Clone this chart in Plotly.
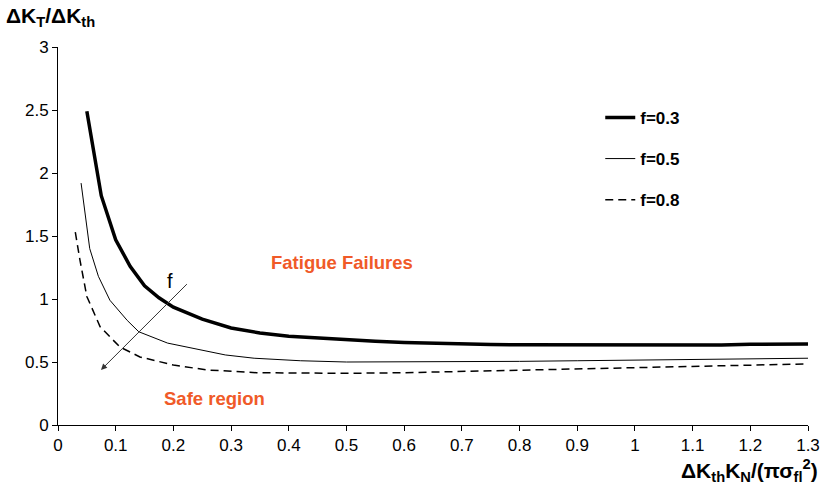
import plotly.graph_objects as go

# f = 0.3 (thick solid)
x_f03 = [0.05, 0.075, 0.1, 0.125, 0.15, 0.175, 0.2, 0.25, 0.3, 0.35, 0.4, 0.45, 0.5, 0.55, 0.6,
         0.65, 0.7, 0.75, 0.8, 0.85, 0.9, 0.95, 1.0, 1.05, 1.1, 1.15, 1.2, 1.25, 1.3]
y_f03 = [2.49, 1.82, 1.47, 1.26, 1.105, 1.01, 0.935, 0.84, 0.77, 0.73, 0.705, 0.69, 0.675, 0.665, 0.655,
         0.648, 0.642, 0.638, 0.636, 0.635, 0.635, 0.634, 0.634, 0.634, 0.634, 0.635, 0.641, 0.642, 0.643]

# f = 0.5 (thin solid)
x_f05 = [0.04, 0.055, 0.07, 0.09, 0.12, 0.14, 0.19, 0.23, 0.29, 0.34, 0.42, 0.5, 0.6, 0.7,
         0.8, 0.9, 1.0, 1.1, 1.2, 1.3]
y_f05 = [1.92, 1.40, 1.18, 0.99, 0.83, 0.74, 0.65, 0.61, 0.556, 0.53, 0.51, 0.50, 0.50, 0.50,
         0.505, 0.51, 0.515, 0.52, 0.525, 0.53]

# f = 0.8 (dashed)
x_f08 = [0.03, 0.038, 0.05, 0.073, 0.107, 0.142, 0.2, 0.258, 0.344, 0.42, 0.5, 0.6, 0.7,
         0.8, 0.9, 1.0, 1.1, 1.2, 1.3]
y_f08 = [1.53, 1.31, 1.02, 0.78, 0.62, 0.54, 0.476, 0.437, 0.415, 0.41, 0.41, 0.415, 0.425,
         0.435, 0.445, 0.455, 0.465, 0.475, 0.485]

x_ticks = [0, 0.1, 0.2, 0.3, 0.4, 0.5, 0.6, 0.7, 0.8, 0.9, 1, 1.1, 1.2, 1.3]
x_ticklabels = ["0", "0.1", "0.2", "0.3", "0.4", "0.5", "0.6", "0.7", "0.8", "0.9", "1", "1.1", "1.2", "1.3"]
y_ticks = [0, 0.5, 1, 1.5, 2, 2.5, 3]
y_ticklabels = ["0", "0.5", "1", "1.5", "2", "2.5", "3"]

FONT = "Arial, Liberation Sans, sans-serif"
ORANGE = "#F05A28"

fig = go.Figure()
fig.add_trace(go.Scatter(x=x_f03, y=y_f03, mode="lines", name="f=0.3", legendgroup="a",
                         line=dict(color="black", width=3.5)))
fig.add_trace(go.Scatter(x=x_f05, y=y_f05, mode="lines", name="f=0.5", legendgroup="b",
                         line=dict(color="black", width=1)))
fig.add_trace(go.Scatter(x=x_f08, y=y_f08, mode="lines", name="f=0.8", legendgroup="c",
                         line=dict(color="black", width=1.5, dash="8px,5px")))

fig.update_layout(
    width=822, height=494,
    margin=dict(l=58, r=14, t=47, b=69),
    paper_bgcolor="white", plot_bgcolor="white",
    font=dict(family=FONT, size=17, color="black"),
    showlegend=True,
    legend=dict(x=0.723, y=0.86, xanchor="left", yanchor="top",
                font=dict(family=FONT, size=17, color="black", weight="bold"),
                tracegroupgap=16, bgcolor="rgba(0,0,0,0)", itemwidth=30),
    xaxis=dict(range=[0, 1.3], tickvals=x_ticks, ticktext=x_ticklabels, automargin=False,
               showgrid=False, zeroline=False, showline=True, linecolor="black", linewidth=1,
               ticks="outside", ticklen=5, tickcolor="black", tickfont=dict(size=17)),
    yaxis=dict(range=[0, 3], tickvals=y_ticks, ticktext=y_ticklabels, automargin=False,
               showgrid=False, zeroline=False, showline=True, linecolor="black", linewidth=1,
               ticks="outside", ticklen=5, tickcolor="black", tickfont=dict(size=17)),
)

annotations = [
    dict(text="<b>ΔK<sub>T</sub>/ΔK<sub>th</sub></b>", xref="paper", yref="paper",
         x=-0.072, y=1.12, xanchor="left", yanchor="top", showarrow=False,
         font=dict(size=21, family=FONT)),
    dict(text="<b>ΔK<sub>th</sub>K<sub>N</sub>/(πσ<sub>fl</sub><sup>2</sup>)</b>", xref="paper", yref="paper",
         x=1.016, y=-0.12, xanchor="right", yanchor="middle", showarrow=False,
         font=dict(size=21, family=FONT)),
    dict(text="<b>Fatigue Failures</b>", x=0.492, y=1.29, xref="x", yref="y", showarrow=False,
         font=dict(size=18.5, color=ORANGE, family=FONT)),
    dict(text="<b>Safe region</b>", x=0.272, y=0.21, xref="x", yref="y", showarrow=False,
         font=dict(size=18.5, color=ORANGE, family=FONT)),
    dict(text="f", x=0.194, y=1.14, xref="x", yref="y", showarrow=False,
         font=dict(size=20, family=FONT)),
    dict(text="", x=0.0745, y=0.437, ax=0.226, ay=1.13, xref="x", yref="y", axref="x", ayref="y",
         showarrow=True, arrowhead=2, arrowsize=1.2, arrowwidth=1, arrowcolor="#333333"),
]
fig.update_layout(annotations=annotations)

fig.write_html("out.html")
